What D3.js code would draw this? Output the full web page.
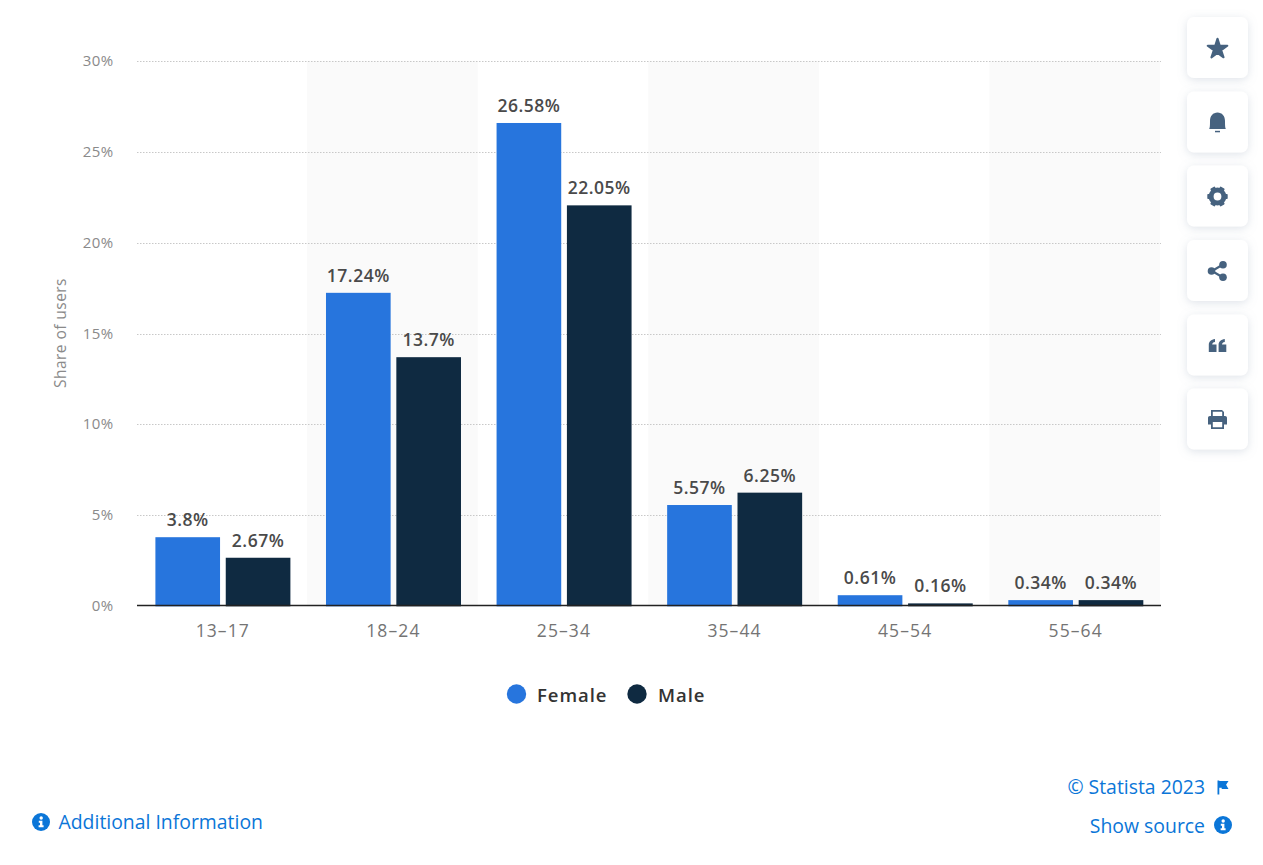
<!DOCTYPE html>
<html><head><meta charset="utf-8">
<script src="https://cdn.jsdelivr.net/npm/d3@7/dist/d3.min.js"></script>
<style>
html,body{margin:0;padding:0;background:#fff;overflow:hidden}
svg{display:block}
text{font-family:"Open Sans",sans-serif}
</style></head><body>
<svg id="c" width="1263" height="865"></svg>
<script>
const categories=["13-17","18-24","25-34","35-44","45-54","55-64"];
const seriesNames=["Female","Male"];
const female=[3.8,17.24,26.58,5.57,0.61,0.34];
const male=[2.67,13.7,22.05,6.25,0.16,0.34];
const femaleLabels=["3.8%","17.24%","26.58%","5.57%","0.61%","0.34%"];
const maleLabels=["2.67%","13.7%","22.05%","6.25%","0.16%","0.34%"];
const yTicks=[0,5,10,15,20,25,30];
const colors=["#2775dd","#0f2a41"];

const svg=d3.select("#c");
const x=d3.scaleBand().domain(categories).range([136.5,1160]);
const inner=d3.scaleBand().domain(seriesNames).range([18.9,153.9]).paddingInner(0.081);
const y=d3.scaleLinear().domain([0,30]).range([606.3,60.8]);

// alternating bands
svg.append("g").selectAll("rect").data(categories.filter((d,i)=>i%2==1)).join("rect")
 .attr("x",d=>x(d)).attr("width",x.bandwidth())
 .attr("y",y(30)).attr("height",y(0)-y(30)).attr("fill","#fafafa");

// grid
svg.append("g").selectAll("line").data(yTicks.filter(d=>d>0)).join("line")
 .attr("x1",137).attr("x2",1161).attr("y1",d=>Math.round(y(d))+0.5).attr("y2",d=>Math.round(y(d))+0.5)
 .attr("stroke","#c8c8c8").attr("stroke-width",1).attr("stroke-dasharray","1.5 1.5");

// y tick labels
svg.append("g").selectAll("text").data(yTicks).join("text")
 .attr("x",113.5).attr("y",d=>y(d)+5).attr("text-anchor","end")
 .attr("font-size",15).attr("fill","#8a8a8a").attr("letter-spacing",0.4).text(d=>d+"%");

// axis title
svg.append("text").attr("transform","translate(66,333) rotate(-90)").attr("text-anchor","middle")
 .attr("font-size",15.5).attr("fill","#8a8a8a").attr("letter-spacing",0.45).text("Share of users");

// bars
const series=[female,male], labels=[femaleLabels,maleLabels];
seriesNames.forEach((s,k)=>{
 const g=svg.append("g");
 g.selectAll("rect").data(categories).join("rect")
  .attr("x",d=>x(d)+inner(s)).attr("width",inner.bandwidth())
  .attr("y",(d,i)=>y(series[k][i])).attr("height",(d,i)=>y(0)-y(series[k][i]))
  .attr("fill",colors[k]);
 g.selectAll("text").data(categories).join("text")
  .attr("x",d=>x(d)+inner(s)+inner.bandwidth()/2).attr("y",(d,i)=>y(series[k][i])-11)
  .attr("text-anchor","middle").attr("font-size",17.5).attr("font-weight",600)
  .attr("fill","#4a4a4a").attr("letter-spacing",0.5).text((d,i)=>labels[k][i]);
});

// baseline
svg.append("line").attr("x1",137).attr("x2",1161).attr("y1",605.5).attr("y2",605.5).attr("stroke","#222").attr("stroke-width",1.4);

// x labels
svg.append("g").selectAll("text").data(categories).join("text")
 .attr("x",d=>x(d)+x.bandwidth()/2+1).attr("y",637).attr("text-anchor","middle")
 .attr("font-size",17.5).attr("fill","#747474").attr("letter-spacing",1.1).text(d=>d.replace("-","–"));

// legend
const legendX=[516.5,637], legendTX=[537,658];
seriesNames.forEach((s,k)=>{
 svg.append("circle").attr("cx",legendX[k]).attr("cy",694).attr("r",9.7).attr("fill",colors[k]);
 svg.append("text").attr("x",legendTX[k]).attr("y",701.5).attr("font-size",18.5).attr("font-weight",600)
  .attr("fill","#333").attr("letter-spacing",0.95).text(s);
});

// footer
const blue="#0b76d8";
svg.append("text").attr("x",1205).attr("y",793.5).attr("text-anchor","end").attr("font-size",19.4).attr("fill",blue).text("© Statista 2023");
svg.append("text").attr("x",1205).attr("y",832.5).attr("text-anchor","end").attr("font-size",19.4).attr("fill",blue).text("Show source");
svg.append("text").attr("x",58.5).attr("y",828.5).attr("font-size",19.4).attr("fill",blue).text("Additional Information");
function info(cx,cy){
 const g=svg.append("g").attr("transform",`translate(${cx},${cy})`);
 g.append("circle").attr("r",9).attr("fill",blue);
 g.append("circle").attr("cx",0.2).attr("cy",-4).attr("r",1.7).attr("fill","#fff");
 g.append("path").attr("d","M-2.2,-1.2H1.4V3.2H2.6V5.2H-2.4V3.2H-1V0.8H-2.2Z").attr("fill","#fff");
}
info(41,822); info(1223,825);
svg.append("path").attr("transform","translate(1217.5,780.5)")
 .attr("d","M0,0H1.8V0.5H11L8.6,4.3L11,8.6H4.2V7.2H1.8V14H0Z").attr("fill",blue);

// side buttons
const defs=svg.append("defs");
const f=defs.append("filter").attr("id","sh").attr("x","-40%").attr("y","-40%").attr("width","180%").attr("height","180%");
f.append("feDropShadow").attr("dx",0).attr("dy",2).attr("stdDeviation",5).attr("flood-color","#8b9ab0").attr("flood-opacity",0.28);
const icon="#46627f";
const btnY=[17,91.5,165.5,240,314.5,388.5];
const icons=[
 // star
 g=>g.append("path").attr("d",d3.symbol(d3.symbolStar,120)()).attr("transform","translate(0,1)").attr("stroke",icon).attr("stroke-width",2).attr("stroke-linejoin","round").attr("fill",icon),
 // bell
 g=>{g.append("path").attr("d","M-8.3,6.5C-7.6,5-7.5,3-7.5,-1.5C-7.5,-6.5-4.5,-10,0,-10C4.5,-10,7.5,-6.5,7.5,-1.5C7.5,3,7.6,5,8.3,6.5Z").attr("fill",icon);
     g.append("path").attr("d","M-2.5,8.3H2.5V9.8H-2.5Z").attr("fill",icon);},
 // gear
 g=>{g.append("circle").attr("r",6.4).attr("fill","none").attr("stroke",icon).attr("stroke-width",5);
     g.append("g").selectAll("rect").data(d3.range(6)).join("rect").attr("x",-2.6).attr("y",-10.2).attr("width",5.2).attr("height",4).attr("rx",0.8)
      .attr("transform",d=>`rotate(${d*60+30})`).attr("fill",icon);},
 // share
 g=>{g.append("path").attr("d","M5.5,-6.5L-5.5,0L5.5,6.5").attr("fill","none").attr("stroke",icon).attr("stroke-width",2.2);
     g.append("circle").attr("cx",-6).attr("cy",0).attr("r",3.8).attr("fill",icon);
     g.append("circle").attr("cx",5.5).attr("cy",-6.3).attr("r",3.8).attr("fill",icon);
     g.append("circle").attr("cx",5.5).attr("cy",6.3).attr("r",3.8).attr("fill",icon);},
 // quote
 g=>{const q="M-8.7,6.5V-0.5C-8.7,-4-6.5,-6-2.5,-6.5V-3.5C-4.5,-3.2-5.3,-2.2-5.3,-1H-1V6.5Z";
     g.append("path").attr("d",q).attr("fill",icon);
     g.append("path").attr("d",q).attr("transform","translate(9.8,0)").attr("fill",icon);},
 // print
 g=>{g.append("path").attr("fill",icon).attr("fill-rule","evenodd").attr("d","M-6.5,-3.5V-9.5H4.5L6.5,-7.5V-3.5H7.5C8.8,-3.5,9.5,-2.8,9.5,-1.5V5H6.5V9.5H-6.5V5H-9.5V-1.5C-9.5,-2.8,-8.8,-3.5,-7.5,-3.5ZM-4.7,-3.5H4.7V-7.7H-4.7ZM-4.7,2.5V7.7H4.7V2.5Z");}
];
btnY.forEach((by,i)=>{
 svg.append("rect").attr("x",1187).attr("y",by).attr("width",61).attr("height",61).attr("rx",7).attr("fill","#fff").attr("filter","url(#sh)");
 icons[i](svg.append("g").attr("transform",`translate(1217.5,${by+31})`));
});
</script></body></html>
